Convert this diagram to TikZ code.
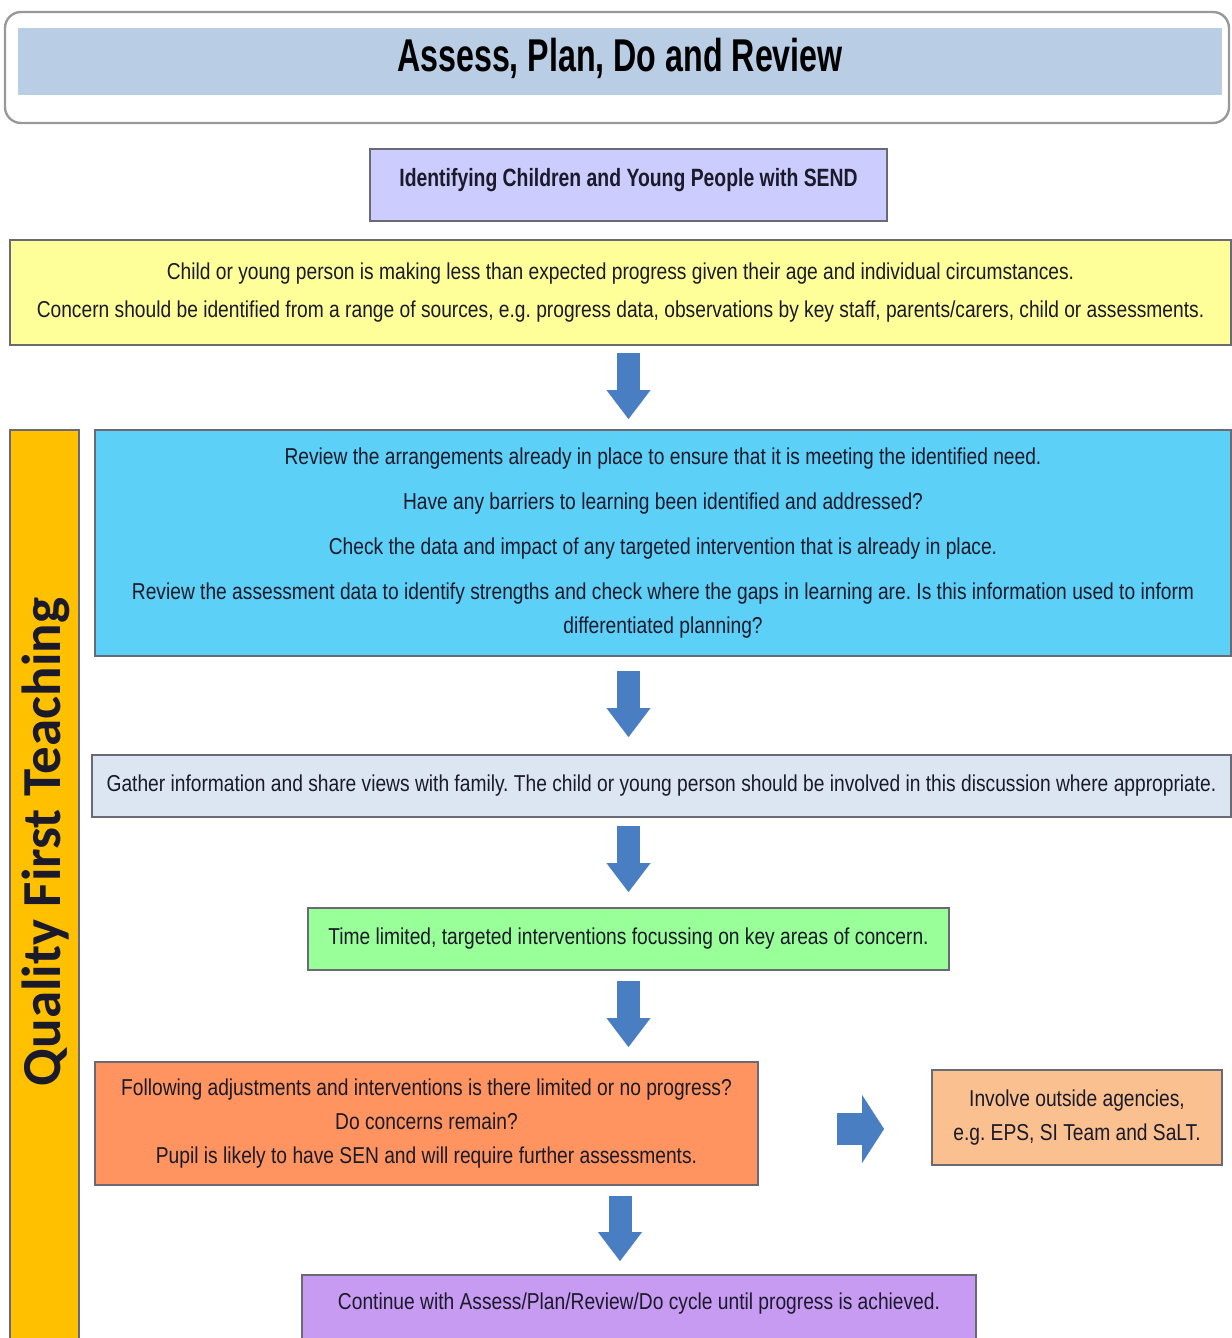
\documentclass[tikz,border=0pt]{standalone}
\usepackage{fontspec}
\setmainfont{Liberation Sans}[FakeStretch=0.835]
\newfontfamily\titlefont{Liberation Sans}[FakeStretch=0.7]
\newfontfamily\sendfont{Liberation Sans}[FakeStretch=0.775]
\newfontfamily\barfont{Carlito}
\usetikzlibrary{arrows.meta,calc}
\frenchspacing
\definecolor{titleband}{HTML}{B9CDE5}
\definecolor{sendc}{HTML}{CCCCFF}
\definecolor{yelc}{HTML}{FFFF99}
\definecolor{barc}{HTML}{FFC000}
\definecolor{cyanc}{HTML}{5DD0F7}
\definecolor{lbluec}{HTML}{DCE6F2}
\definecolor{greenc}{HTML}{99FF99}
\definecolor{orangec}{HTML}{FF9461}
\definecolor{peachc}{HTML}{FAC08F}
\definecolor{purplec}{HTML}{C79BF2}
\definecolor{arrowc}{HTML}{4A7EC2}
\definecolor{borderc}{HTML}{6A6A76}
\definecolor{txtc}{HTML}{1A1A2A}
\begin{document}
\frenchspacing
\begin{tikzpicture}[x=0.5pt,y=-0.5pt,
  box/.style={draw=borderc, line width=1pt, inner sep=0pt, align=center, text=txtc,
    font=\fontsize{11.5}{17}\selectfont\frenchspacing},
  downarrow/.style={draw=arrowc, line width=11.5pt,
    -{Triangle[width=22pt,length=14.5pt,line width=0.01pt]}},
  rightarrow/.style={draw=arrowc, line width=16pt,
    -{Triangle[width=34pt,length=11pt,line width=0.01pt]}}]
\useasboundingbox (0,0) rectangle (1231,1338);
% title
\node[draw=gray!80, line width=1.2pt, rounded corners=8pt, inner sep=0pt,
  minimum width=612pt, minimum height=55.5pt] (titleframe) at (617,67.5) {};
\node[fill=titleband, inner sep=0pt, minimum width=602pt, minimum height=33.5pt, text depth=7pt,
  font=\titlefont\fontsize{23}{26}\selectfont\bfseries] (title) at (620,61.5) {Assess, Plan, Do and Review};
% SEND
\node[box, fill=sendc, minimum width=258.5pt, minimum height=36pt, text depth=8pt,
  font=\sendfont\fontsize{12.5}{15}\selectfont\bfseries] (send) at (628.5,185) {Identifying Children and Young People with SEND};
% yellow
\node[box, fill=yelc, minimum width=610.5pt, minimum height=52.5pt] (yel) at (620.5,292.5)
  {Child or young person is making less than expected progress given their age and individual circumstances.\\[2pt]
   Concern should be identified from a range of sources, e.g. progress data, observations by key staff, parents/carers, child or assessments.};
% orange bar
\node[box, fill=barc, minimum width=34.5pt, minimum height=457.5pt] (bar) at (44.5,887.5) {};
\node[rotate=90, text=txtc, font=\barfont\fontsize{27.5}{30}\selectfont\bfseries] (bartext) at (46,842) {Quality First Teaching};
% cyan
\node[box, fill=cyanc, minimum width=568pt, minimum height=113pt] (cyan) at (663,543)
  {Review the arrangements already in place to ensure that it is meeting the identified need.\\[5.5pt]
   Have any barriers to learning been identified and addressed?\\[5.5pt]
   Check the data and impact of any targeted intervention that is already in place.\\[5.5pt]
   Review the assessment data to identify strengths and check where the gaps in learning are. Is this information used to inform\\
   differentiated planning?};
% light blue
\node[box, fill=lbluec, minimum width=569.5pt, minimum height=31pt] (gather) at (661.5,786)
  {Gather information and share views with family. The child or young person should be involved in this discussion where appropriate.};
% green
\node[box, fill=greenc, minimum width=320.5pt, minimum height=31pt] (green) at (628.5,939)
  {Time limited, targeted interventions focussing on key areas of concern.};
% orange
\node[box, fill=orangec, minimum width=331.5pt, minimum height=61.5pt] (orange) at (426.5,1123.5)
  {Following adjustments and interventions is there limited or no progress?\\
   Do concerns remain?\\
   Pupil is likely to have SEN and will require further assessments.};
% peach
\node[box, fill=peachc, minimum width=145pt, minimum height=47.5pt] (peach) at (1077,1117.5)
  {Involve outside agencies,\\ e.g. EPS, SI Team and SaLT.};
% purple
\node[box, fill=purplec, minimum width=337pt, minimum height=35pt] (purple) at (639,1310) {};
\node[text=txtc, font=\fontsize{11.5}{17}\selectfont] (purpletext) at (639,1304)
  {Continue with Assess/Plan/Review/Do cycle until progress is achieved.};
% arrows
\coordinate (ax) at (628.5,0);
\coordinate (ax2) at (620,0);
\draw[downarrow, shorten <=3.5pt, shorten >=5pt] (yel.south -| ax) -- (cyan.north -| ax);
\draw[downarrow, shorten <=7pt, shorten >=8.5pt] (cyan.south -| ax) -- (gather.north -| ax);
\draw[downarrow, shorten <=4pt, shorten >=7.5pt] (gather.south -| ax) -- (green.north -| ax);
\draw[downarrow, shorten <=5pt, shorten >=7pt] (green.south -| ax) -- (orange.north -| ax);
\draw[downarrow, shorten <=5pt, shorten >=6.5pt] (orange.south -| ax2) -- (purple.north -| ax2);
\coordinate (ry) at (0,1129);
\draw[rightarrow, shorten <=39pt, shorten >=23.5pt] (orange.east |- ry) -- (peach.west |- ry);
\end{tikzpicture}
\end{document}
